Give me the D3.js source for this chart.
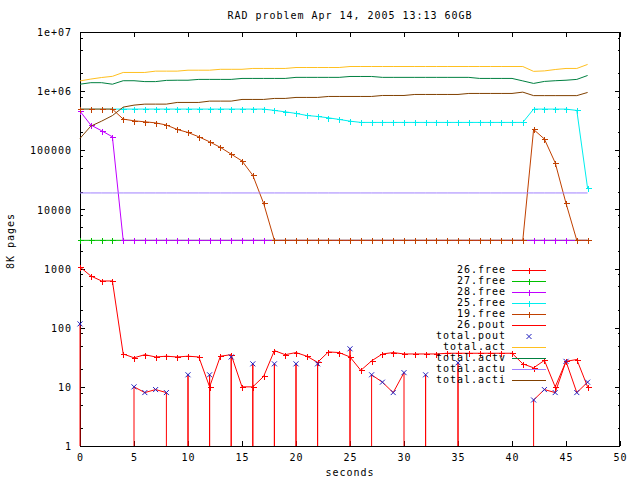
<!DOCTYPE html>
<html><head><meta charset="utf-8">
<script src="https://cdn.jsdelivr.net/npm/d3@7"></script>
<style>html,body{margin:0;padding:0;background:#fff;} svg{display:block;}</style>
</head><body>
<svg id="c" width="640" height="480"></svg>
<script>
const title = "RAD problem Apr 14, 2005 13:13 60GB";
const xLabel = "seconds";
const yLabel = "8K pages";
const xTicks = [0,5,10,15,20,25,30,35,40,45,50];
const yTicks = [1,10,100,1000,10000,100000,1000000,10000000];
const yTickLabels = ["1","10","100","1000","10000","100000","1e+06","1e+07"];
const yMinorTicks = [2,5,8,20,50,80,200,500,800,2000,5000,8000,20000,50000,80000,200000,500000,800000,2000000,5000000,8000000];

const seconds = [0,1,2,3,4,5,6,7,8,9,10,11,12,13,14,15,16,17,18,19,20,21,22,23,24,25,26,27,28,29,30,31,32,33,34,35,36,37,38,39,40,41,42,43,44,45,46,47];

const free26 = [1064,750,617,617,36,31,35,32,33,32,33,32,10,33,35,10,10,15,41,35,38,33,26,39,38,32,19,27.5,36,38,36,36,36,36,37,37,37,37,37,37,37,24.5,21,28,10,27,29,10];
const free27 = [3000,3000,3000,3000,3000,3000,3000,3000,3000,3000,3000,3000,3000,3000,3000,3000,3000,3000,3000,3000,3000,3000,3000,3000,3000,3000,3000,3000,3000,3000,3000,3000,3000,3000,3000,3000,3000,3000,3000,3000,3000,3000,3000,3000,3000,3000,3000,3000];
const free28 = [459000,267000,214000,169000,3000,3000,3000,3000,3000,3000,3000,3000,3000,3000,3000,3000,3000,3000,3000,3000,3000,3000,3000,3000,3000,3000,3000,3000,3000,3000,3000,3000,3000,3000,3000,3000,3000,3000,3000,3000,3000,3000,3000,3000,3000,3000,3000,3000];
const free25 = [497000,497000,497000,497000,497000,497000,497000,497000,497000,497000,497000,497000,497000,497000,497000,497000,497000,497000,472000,447000,420000,388000,373000,354000,332000,311000,296000,296000,296000,296000,296000,296000,296000,296000,296000,296000,296000,296000,296000,296000,296000,296000,497000,497000,497000,497000,472000,22700];
const free19 = [497000,497000,497000,497000,337000,315000,303000,291000,267000,225000,200000,169000,139000,112000,86000,66000,37700,12700,3000,3000,3000,3000,3000,3000,3000,3000,3000,3000,3000,3000,3000,3000,3000,3000,3000,3000,3000,3000,3000,3000,3000,3000,225000,155000,61500,12700,3000,3000];
const pout26 = [116,null,null,null,null,10,8,9,8,null,16,null,16,null,32,null,24.5,null,24.5,null,24.5,null,24.5,null,null,44,null,16,12,8,17.4,null,16,null,null,25.5,null,null,null,null,null,null,6,9,8,27,8,12];
const totalPout = [116,null,null,null,null,10,8,9,8,null,16,null,16,null,32,null,24.5,null,24.5,null,24.5,null,24.5,null,null,44,null,16,12,8,17.4,null,16,null,null,25.5,null,null,null,null,null,null,6,9,8,27,8,12];
const totalAct = [1490000,1600000,1700000,1780000,2070000,2070000,2070000,2180000,2180000,2180000,2260000,2260000,2260000,2340000,2340000,2340000,2420000,2420000,2420000,2420000,2510000,2510000,2510000,2510000,2510000,2610000,2610000,2610000,2610000,2610000,2610000,2610000,2610000,2610000,2610000,2610000,2610000,2610000,2610000,2610000,2610000,2610000,2160000,2200000,2320000,2420000,2420000,2830000];
const totalActv = [1310000,1390000,1390000,1310000,1500000,1500000,1450000,1450000,1520000,1530000,1530000,1580000,1580000,1580000,1580000,1640000,1640000,1640000,1640000,1640000,1710000,1710000,1710000,1710000,1710000,1770000,1770000,1770000,1710000,1710000,1710000,1710000,1710000,1710000,1710000,1710000,1710000,1640000,1640000,1640000,1640000,1490000,1350000,1460000,1500000,1530000,1580000,1840000];
const totalActu = [19000,19000,19000,19000,19000,19000,19000,19000,19000,19000,19000,19000,19000,19000,19000,19000,19000,19000,19000,19000,19000,19000,19000,19000,19000,19000,19000,19000,19000,19000,19000,19000,19000,19000,19000,19000,19000,19000,19000,19000,19000,19000,19000,19000,19000,19000,19000,19000];
const totalActi = [159000,256000,311000,386000,537000,580000,603000,603000,603000,644000,644000,644000,678000,678000,678000,724000,724000,724000,753000,753000,783000,783000,783000,813000,813000,813000,813000,813000,845000,845000,845000,879000,879000,879000,879000,879000,914000,914000,914000,914000,914000,962000,840000,840000,840000,840000,840000,950000];

const seriesNames = ["26.free","27.free","28.free","25.free","19.free","26.pout","total.pout","total.act","total.actv","total.actu","total.acti"];
const seriesData = [free26,free27,free28,free25,free19,pout26,totalPout,totalAct,totalActv,totalActu,totalActi];
const seriesColors = ["#ff0000","#00c000","#c000ff","#00eeee","#c04000","#ff0000","#2020c0","#ffc020","#008040","#a080ff","#804000"];
const seriesStyles = ["linespoints","linespoints","linespoints","linespoints","linespoints","drops","points","lines","lines","lines","lines"];

const FONT = "'DejaVu Sans Mono', monospace";
const svg = d3.select("#c");
const L = 80, R = 620, T = 32, B = 446;
const x = d3.scaleLinear().domain([0,50]).range([L,R]);
const y = d3.scaleLog().domain([1,1e7]).range([B,T]);

function styleText(sel){ sel.attr("font-family",FONT).attr("font-size","10px").attr("letter-spacing","0.98px").attr("fill","#000"); }

// axes
function axis(gen, tx, ty, vals, size, labels){
  const g = svg.append("g").attr("transform",`translate(${tx},${ty})`)
    .call(gen.tickValues(vals).tickSizeInner(-size).tickSizeOuter(0).tickPadding(labels?8:0).tickFormat(labels||(()=>"")));
  g.select(".domain").remove();
  g.selectAll("line").attr("stroke","#000").attr("shape-rendering","crispEdges");
  g.attr("font-family",null).attr("font-size",null);
  g.selectAll("text").call(styleText);
  return g;
}
const gx = axis(d3.axisBottom(x), 0, B, xTicks, 5, d=>String(d));
gx.selectAll("text").attr("dy","0").attr("y",15);
axis(d3.axisTop(x), 0, T, xTicks, 5, null);
const gy = axis(d3.axisLeft(y), L, 0, yTicks, 5, (d,i)=>yTickLabels[i]);
gy.selectAll("text").attr("dy","0.36em");
axis(d3.axisRight(y), R, 0, yTicks, 5, null);
axis(d3.axisLeft(y), L, 0, yMinorTicks, 2.5, null);
axis(d3.axisRight(y), R, 0, yMinorTicks, 2.5, null);

svg.append("rect").attr("x",L+0.5).attr("y",T+0.5).attr("width",R-L-1).attr("height",B-T)
  .attr("fill","none").attr("stroke","#000").attr("shape-rendering","crispEdges");

// texts
svg.append("text").attr("x",350).attr("y",19).attr("text-anchor","middle").text(title).call(styleText);
svg.append("text").attr("x",350).attr("y",476).attr("text-anchor","middle").text(xLabel).call(styleText);
svg.append("text").attr("transform","translate(14,241) rotate(-90)").attr("text-anchor","middle").text(yLabel).call(styleText);

const line = d3.line().x(d=>x(d[0])).y(d=>y(d[1]));
function plus(g, cx, cy, color){
  g.append("path").attr("d",`M${cx-3},${cy}H${cx+3}M${cx},${cy-3}V${cy+3}`).attr("stroke",color).attr("fill","none").attr("shape-rendering","crispEdges");
}
function cross(g, cx, cy, color){
  g.append("path").attr("d",`M${cx-2.5},${cy-2.5}L${cx+2.5},${cy+2.5}M${cx-2.5},${cy+2.5}L${cx+2.5},${cy-2.5}`).attr("stroke",color).attr("fill","none");
}

const plotG = svg.append("g");
seriesNames.forEach((name,k)=>{
  const data = seriesData[k], color = seriesColors[k], st = seriesStyles[k];
  const g = plotG.append("g");
  // legend entry
  const ly = 270 + 10.95*k;
  g.append("text").attr("x",506).attr("y",ly+3.4).attr("text-anchor","end").text(name).call(styleText);
  const lyp = Math.round(ly)+0.5;
  if(st!=="points"){
    g.append("path").attr("d",`M512,${lyp}H546`).attr("stroke",color).attr("shape-rendering","crispEdges");
  }
  if(st==="linespoints") plus(g, 529, lyp, color);
  if(st==="points") cross(g, 529, lyp, color);

  const pts = seconds.map((s,i)=>[s,data[i]]);
  if(st==="linespoints"||st==="lines"){
    g.append("path").attr("d",line(pts)).attr("fill","none").attr("stroke",color).attr("stroke-width",1);
  }
  if(st==="linespoints"){
    pts.forEach(p=>plus(g, Math.round(x(p[0]))+0.5, Math.round(y(p[1]))+0.5, color));
  }
  if(st==="points"){
    pts.filter(p=>p[1]!=null).forEach(p=>cross(g, x(p[0]), y(p[1]), color));
  }
  if(st==="drops"){
    // runs of defined values; vertical drop to baseline where neighbours are undefined
    let i=0;
    while(i<pts.length){
      if(pts[i][1]==null){i++;continue;}
      let j=i; while(j+1<pts.length && pts[j+1][1]!=null) j++;
      const run = [];
      if(i>0) run.push([pts[i][0],1]);
      for(let m=i;m<=j;m++) run.push(pts[m]);
      if(j<pts.length-1) run.push([pts[j][0],1]);
      g.append("path").attr("d",line(run)).attr("fill","none").attr("stroke",color).attr("stroke-width",1);
      i=j+1;
    }
  }
});
</script>
</body></html>
